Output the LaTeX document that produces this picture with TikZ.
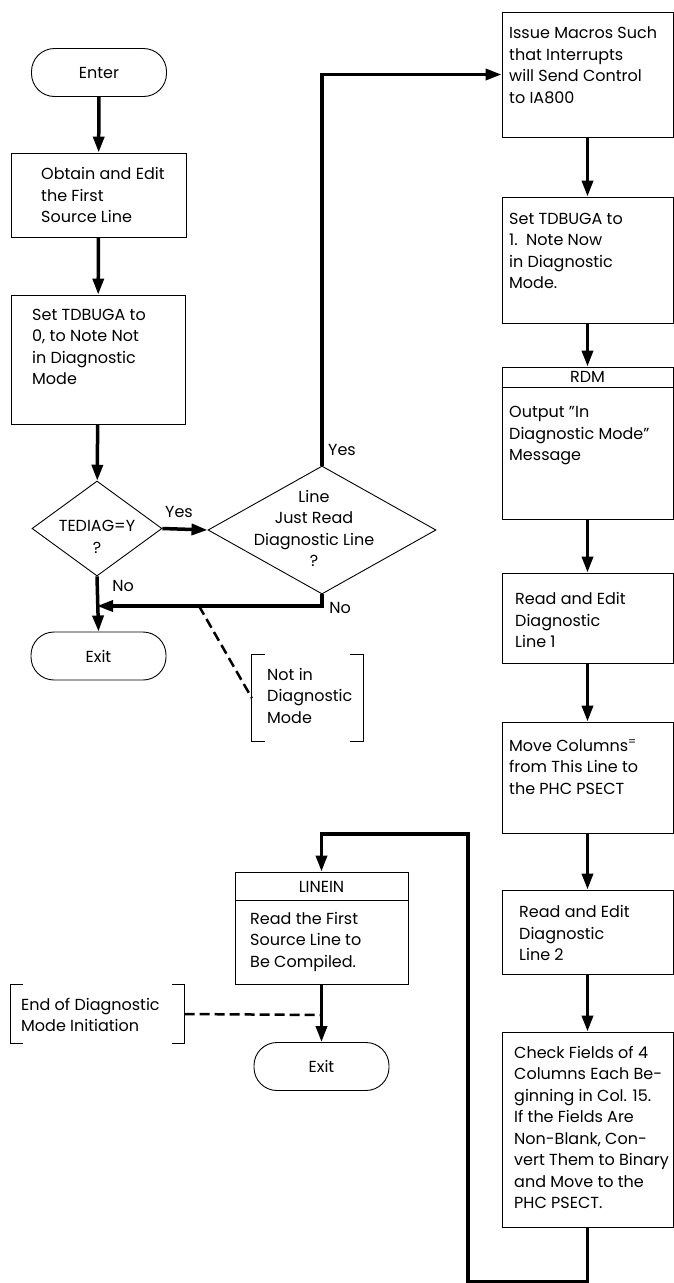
\documentclass[tikz,border=0pt]{standalone}
\usepackage{fontspec}
\setmainfont{Poppins}
\usetikzlibrary{arrows.meta,shapes.geometric}

\begin{document}
\begin{tikzpicture}[x=1pt, y=-1pt,
  box/.style = {draw, line width=0.9pt, inner sep=0pt},
  term/.style = {draw, line width=0.9pt, rounded corners=23pt, inner sep=0pt, minimum width=135pt, minimum height=48pt, font=\fontsize{16}{21.5}\selectfont},
  ask/.style = {draw, line width=0.9pt, diamond, inner sep=0pt},
  txt/.style = {anchor=west, align=left, inner sep=0pt, font=\fontsize{16}{21.5}\selectfont},
  lbl/.style = {inner sep=0pt, font=\fontsize{16}{21.5}\selectfont},
  flow/.style = {line width=3.5pt, -{Triangle[length=16pt,width=11pt]}},
  hint/.style = {line width=2.5pt, dash pattern=on 10pt off 5pt}]
\useasboundingbox (0,0) rectangle (674,1283);

% left column
\node[term] (enter) at (99,72.5) {Enter}; % start
\node[box, minimum width=175pt, minimum height=84pt] (b1) at (98.5,195) {}; % first source line
\node[txt] at (41,195) {Obtain and Edit\\the First\\Source Line};
\node[box, minimum width=174pt, minimum height=129pt] (b2) at (98,359.5) {}; % TDBUGA = 0
\node[txt] at (32,346.75) {Set TDBUGA to\\0, to Note Not\\in Diagnostic\\Mode};

\node[ask, minimum width=130pt, minimum height=95pt] (d1) at (97,528.5) {}; % TEDIAG test
\node[lbl, align=center] at (97,537) {TEDIAG=Y\\?};
\node[ask, minimum width=228pt, minimum height=128pt] (d2) at (322,530) {}; % diagnostic line test
\node[lbl, align=center] at (314,528.5) {Line\\Just Read\\Diagnostic Line\\?};

\node[term] (exit1) at (98.5,656) {Exit}; % exit 1

\node[minimum width=111pt, minimum height=86pt, inner sep=0pt] (n1) at (307.5,698) {}; % note 1
\node[txt] at (267,695.7) {Not in\\Diagnostic\\Mode};
\draw[line width=0.9pt] ([xshift=13pt]n1.north west) -| (n1.south west) -- ++(13,0); % bracket
\draw[line width=0.9pt] ([xshift=-13pt]n1.north east) -| (n1.south east) -- ++(-13,0); % bracket

% right column
\node[box, minimum width=171pt, minimum height=125pt] (b3) at (587.5,74.5) {}; % macros
\node[txt] at (509,65) {Issue Macros Such\\that Interrupts\\will Send Control\\to IA800};
\node[box, minimum width=171pt, minimum height=126pt] (b4) at (587.5,260) {}; % TDBUGA = 1
\node[txt] at (509,250.75) {Set TDBUGA to\\1.~~Note Now\\in Diagnostic\\Mode.};
\node[box, minimum width=171pt, minimum height=152pt] (rdm) at (587.5,443) {}; % RDM
\draw[line width=0.9pt] (rdm.west |- 0,387) -- (rdm.east |- 0,387); % stripe
\node[lbl] at (587.5,377) {RDM};
\node[txt] at (509,436) {Output "In\\Diagnostic Mode"\\Message};
\node[box, minimum width=171pt, minimum height=90pt] (b6) at (587.5,618) {}; % line 1
\node[txt] at (515,620) {Read and Edit\\Diagnostic\\Line 1};
\node[box, minimum width=171pt, minimum height=111pt] (b7) at (587.5,777.5) {}; % move columns
\node[txt] at (509,767) {Move Columns\textsuperscript{=}\\from This Line to\\the PHC PSECT};
\node[box, minimum width=171pt, minimum height=84pt] (b8) at (587.5,932) {}; % line 2
\node[txt] at (519,933) {Read and Edit\\Diagnostic\\Line 2};
\node[box, minimum width=171pt, minimum height=195pt] (b9) at (587.5,1129.5) {}; % check fields
\node[txt] at (514,1127.5) {Check Fields of 4\\Columns Each Be-\\ginning in Col. 15.\\If the Fields Are\\Non-Blank, Con-\\vert Them to Binary\\and Move to the\\PHC PSECT.};

% bottom
\node[box, minimum width=173pt, minimum height=112pt] (linein) at (321.5,928) {}; % LINEIN
\draw[line width=0.9pt] (linein.west |- 0,900) -- (linein.east |- 0,900); % stripe
\node[lbl] at (321.5,887) {LINEIN};
\node[txt] at (250,941.7) {Read the First\\Source Line to\\Be Compiled.};
\node[term] (exit2) at (321.5,1066.5) {Exit}; % exit 2

\node[minimum width=174pt, minimum height=58pt, inner sep=0pt] (n2) at (97.5,1014) {}; % note 2
\node[txt] at (21,1014.75) {End of Diagnostic\\Mode Initiation};
\draw[line width=0.9pt] ([xshift=13pt]n2.north west) -| (n2.south west) -- ++(13,0); % bracket
\draw[line width=0.9pt] ([xshift=-13pt]n2.north east) -| (n2.south east) -- ++(-13,0); % bracket

% connectors
\coordinate (j1) at (97,606);
\coordinate (j2) at (199,606);
\coordinate (k1) at (468,834);
\coordinate (j3) at (321.5,1015);

\draw[flow] (enter) -- (b1); % enter
\draw[flow] (b1) -- (b2);
\draw[flow] (b2) -- (d1);
\draw[flow] (d1.east) -- (d2.west); % yes
\node[lbl] at (179,512) {Yes};
\draw[flow] (d2.north) |- (b3.west); % yes
\node[lbl] at (342,450) {Yes};
\draw[flow] (d1.south) -- (exit1.north); % no
\node[lbl] at (123,586) {No};
\draw[flow] (d2.south) |- (j1); % no
\node[lbl] at (340,608) {No};
\draw[hint] (j2) -- (n1.west); % note

\draw[flow] (b3) -- (b4);
\draw[flow] (b4) -- (rdm);
\draw[flow] (rdm) -- (b6);
\draw[flow] (b6) -- (b7);
\draw[flow] (b7) -- (b8);
\draw[flow] (b8) -- (b9);
\draw[flow] (b9.south) -- ++(0,54) -| (k1) -| (linein.north); % loop back
\draw[flow] (linein) -- (exit2);
\draw[hint] (n2.east) -- (j3); % note

\end{tikzpicture}
\end{document}
